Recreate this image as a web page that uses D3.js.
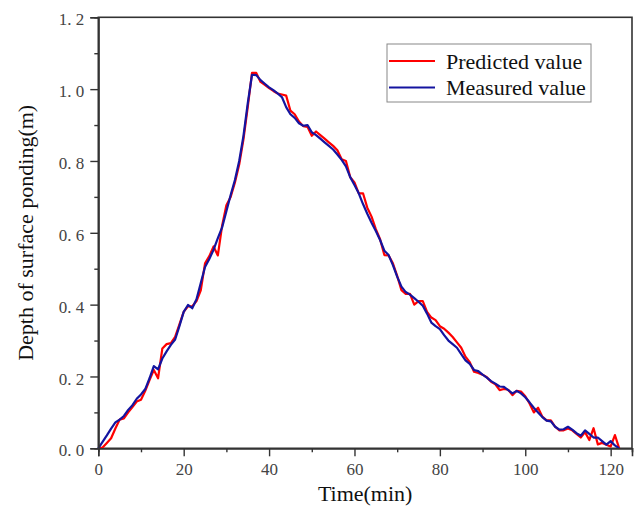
<!DOCTYPE html>
<html>
<head>
<meta charset="utf-8">
<script src="https://cdn.jsdelivr.net/npm/d3@7"></script>
<style>
  html, body { margin: 0; padding: 0; background: #fff; }
  svg { display: block; }
  text { font-family: "Liberation Serif", "Times New Roman", serif; }
</style>
</head>
<body>
<svg id="chart" width="635" height="515"></svg>
<script>
// ---- data ----
const time = d3.range(0, 123); // minutes 0..122
const measured = [
  0, 0.018, 0.036, 0.055, 0.072, 0.08, 0.09, 0.107, 0.12, 0.138,
  0.15, 0.165, 0.195, 0.229, 0.22, 0.25, 0.27, 0.288, 0.303, 0.34,
  0.38, 0.399, 0.39, 0.415, 0.46, 0.505, 0.527, 0.553, 0.585, 0.615,
  0.66, 0.705, 0.747, 0.8, 0.87, 0.96, 1.04, 1.039, 1.025, 1.015,
  1.005, 0.997, 0.988, 0.978, 0.95, 0.93, 0.92, 0.905, 0.898, 0.9,
  0.88, 0.872, 0.862, 0.852, 0.842, 0.832, 0.818, 0.803, 0.785, 0.755,
  0.733, 0.71, 0.68, 0.653, 0.628, 0.605, 0.58, 0.55, 0.538, 0.51,
  0.478, 0.45, 0.435, 0.428, 0.418, 0.408, 0.397, 0.375, 0.35, 0.34,
  0.332, 0.315, 0.3, 0.29, 0.28, 0.262, 0.245, 0.235, 0.218, 0.215,
  0.205, 0.197, 0.187, 0.18, 0.172, 0.171, 0.162, 0.153, 0.16, 0.153,
  0.142, 0.128, 0.113, 0.1, 0.087, 0.077, 0.075, 0.06, 0.052, 0.053,
  0.06, 0.052, 0.042, 0.035, 0.05, 0.04, 0.03, 0.03, 0.02, 0.01,
  0.02, 0.008, 0
];
const predicted = [
  0, 0.002, 0.015, 0.028, 0.055, 0.08, 0.083, 0.1, 0.115, 0.13,
  0.135, 0.16, 0.19, 0.218, 0.195, 0.278, 0.29, 0.293, 0.31, 0.345,
  0.38, 0.395, 0.395, 0.41, 0.44, 0.515, 0.535, 0.562, 0.537, 0.62,
  0.677, 0.7, 0.74, 0.79, 0.86, 0.95, 1.045, 1.045, 1.02, 1.012,
  1.003, 0.995, 0.988, 0.985, 0.982, 0.94, 0.93, 0.91, 0.897, 0.895,
  0.87, 0.882, 0.872, 0.862, 0.852, 0.842, 0.83, 0.805, 0.8, 0.755,
  0.74, 0.71, 0.71, 0.67, 0.645, 0.61, 0.582, 0.538, 0.537, 0.515,
  0.48, 0.44, 0.43, 0.43, 0.4, 0.41, 0.41, 0.38, 0.364, 0.357,
  0.34, 0.333, 0.322, 0.31, 0.295, 0.28, 0.255, 0.24, 0.213, 0.21,
  0.205, 0.198, 0.185, 0.178, 0.162, 0.165, 0.163, 0.148, 0.16, 0.158,
  0.145, 0.125, 0.1, 0.113, 0.088, 0.078, 0.078, 0.06, 0.05, 0.05,
  0.055, 0.05, 0.04, 0.03, 0.045, 0.023, 0.056, 0.011, 0.015, 0.01,
  0.005, 0.037, 0
];
const xTicks = [0, 20, 40, 60, 80, 100, 120];
const xMinorTicks = [10, 30, 50, 70, 90, 110];
const yTicks = [0, 0.2, 0.4, 0.6, 0.8, 1.0, 1.2];
const yMinorTicks = [0.1, 0.3, 0.5, 0.7, 0.9, 1.1];
const seriesNames = ["Predicted value", "Measured value"];
const seriesColors = ["#ff0000", "#1414a0"];

// ---- layout ----
const svg = d3.select("#chart");
const pLeft = 98.3, pRight = 632, pTop = 17.3, pBottom = 448.3;
const x = d3.scaleLinear().domain([0, 125]).range([pLeft, pRight]);
const y = d3.scaleLinear().domain([0, 1.2]).range([pBottom, pTop]);
const axisColor = "#333";

// frame
svg.append("rect")
  .attr("x", pLeft).attr("y", pTop)
  .attr("width", pRight - pLeft).attr("height", pBottom - pTop)
  .attr("fill", "none").attr("stroke", axisColor).attr("stroke-width", 1.6);

// series
const line = d3.line().x((d, i) => x(time[i])).y(d => y(d));
[predicted, measured].forEach((s, k) => {
  svg.append("path").datum(s)
    .attr("d", line)
    .attr("fill", "none")
    .attr("stroke", seriesColors[k])
    .attr("stroke-width", 2.2)
    .attr("stroke-linejoin", "round");
});

// x axis
const gx = svg.append("g").attr("transform", `translate(0,${pBottom})`)
  .call(d3.axisBottom(x).tickValues(xTicks).tickSize(8).tickPadding(7).tickFormat(d3.format("d")));
svg.append("g").attr("transform", `translate(0,${pBottom})`)
  .call(d3.axisBottom(x).tickValues(xMinorTicks).tickSize(4).tickFormat(""));
// y axis
const gy = svg.append("g").attr("transform", `translate(${pLeft},0)`)
  .call(d3.axisLeft(y).tickValues(yTicks).tickSize(8).tickPadding(6).tickFormat(d => d3.format(".1f")(d).replace(".", ". ")));
svg.append("g").attr("transform", `translate(${pLeft},0)`)
  .call(d3.axisLeft(y).tickValues(yMinorTicks).tickSize(4).tickFormat(""));

svg.selectAll(".domain").attr("stroke", axisColor).attr("stroke-width", 1.6);
svg.selectAll(".tick line").attr("stroke", axisColor).attr("stroke-width", 1.4);
svg.selectAll(".tick text")
  .attr("fill", "#444")
  .style("font-size", "17px")
  .style("font-family", "'Liberation Serif', serif");
gy.selectAll(".tick text").attr("dy", "0.45em").style("white-space", "pre");

// axis titles
svg.append("text")
  .attr("x", (pLeft + pRight) / 2).attr("y", 501)
  .attr("text-anchor", "middle")
  .style("font-size", "22px").attr("fill", "#111")
  .text("Time(min)");
svg.append("text")
  .attr("transform", `translate(33,${(pTop + pBottom) / 2}) rotate(-90)`)
  .attr("text-anchor", "middle")
  .style("font-size", "22px").attr("fill", "#111")
  .text("Depth of surface ponding(m)");

// legend
const lg = svg.append("g");
lg.append("rect")
  .attr("x", 387).attr("y", 44).attr("width", 204).attr("height", 58)
  .attr("fill", "#fff").attr("stroke", "#888").attr("stroke-width", 1);
seriesNames.forEach((name, i) => {
  const yy = 61 + i * 26.5;
  lg.append("line")
    .attr("x1", 389).attr("x2", 435).attr("y1", yy).attr("y2", yy)
    .attr("stroke", seriesColors[i]).attr("stroke-width", 2.2);
  lg.append("text")
    .attr("x", 446).attr("y", yy + 7.5)
    .style("font-size", "22px").attr("fill", "#111")
    .text(name);
});
</script>
</body>
</html>
